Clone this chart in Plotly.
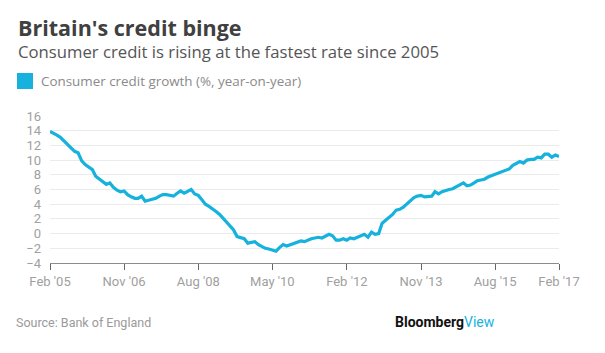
import plotly.graph_objects as go
import pandas as pd

# ---- Data (monthly, Feb 2005 .. Feb 2017) ----
start_month = "2005-02-01"
growth = [
    13.9, 13.7, 13.4, 13.1, 12.6, 12.1, 11.6, 11.2, 11.0, 9.9,
    9.4, 9.0, 8.7, 7.8, 7.4, 7.0, 6.7, 6.9, 6.3, 5.9,
    5.7, 5.8, 5.3, 5.0, 4.8, 4.8, 5.1, 4.4, 4.5, 4.6,
    4.8, 5.1, 5.3, 5.3, 5.2, 5.1, 5.5, 5.8, 5.5, 5.7,
    6.0, 5.4, 5.2, 4.6, 4.0, 3.7, 3.4, 3.0, 2.6, 2.1,
    1.6, 1.1, 0.5, -0.4, -0.5, -0.7, -1.3, -1.2, -1.1, -1.5,
    -1.8, -2.0, -2.1, -2.2, -2.4, -1.9, -1.5, -1.7, -1.5, -1.3,
    -1.1, -1.0, -1.1, -0.9, -0.7, -0.6, -0.5, -0.6, -0.3, -0.1,
    -0.3, -0.9, -0.9, -0.7, -0.9, -0.6, -0.7, -0.5, -0.3, -0.1,
    -0.5, 0.2, -0.1, 0.0, 1.4, 1.8, 2.2, 2.6, 3.2, 3.3,
    3.6, 4.0, 4.5, 4.9, 5.1, 5.2, 5.0, 5.0, 5.1, 5.7,
    5.4, 5.7, 5.9, 6.0, 6.1, 6.4, 6.7, 6.9, 6.5, 6.6,
    6.9, 7.2, 7.3, 7.4, 7.7, 7.9, 8.0, 8.2, 8.4, 8.6,
    8.8, 9.3, 9.6, 9.8, 9.6, 10.0, 10.1, 10.1, 10.4, 10.3,
    10.8, 10.8, 10.4, 10.7, 10.5,
]
dates = pd.date_range(start_month, periods=len(growth), freq="MS")

tick_dates = ["2005-02-01", "2006-11-01", "2008-08-01", "2010-05-01",
              "2012-02-01", "2013-11-01", "2015-08-01", "2017-02-01"]
tick_labels = ["Feb '05", "Nov '06", "Aug '08", "May '10",
               "Feb '12", "Nov '13", "Aug '15", "Feb '17"]
y_ticks = [-4, -2, 0, 2, 4, 6, 8, 10, 12, 14, 16]

title = "Britain's credit binge"
subtitle = "Consumer credit is rising at the fastest rate since 2005"
legend_label = "Consumer credit growth (%, year-on-year)"
source = "Source: Bank of England"

# ---- Layout geometry ----
WIDTH, HEIGHT = 605, 353
L, R, T, B = 50, 46, 116, 90
PW = WIDTH - L - R
PH = HEIGHT - T - B

def px(x):
    return (x - L) / PW

def py(y):
    return (HEIGHT - B - y) / PH

CYAN = "#16b2dd"
FONT = "Roboto"
HEAD = "Open Sans"

fig = go.Figure()
fig.add_trace(go.Scatter(
    x=dates, y=growth, mode="lines",
    line=dict(color=CYAN, width=3.2),
    hoverinfo="skip", showlegend=False,
))

fig.update_layout(
    width=WIDTH, height=HEIGHT,
    margin=dict(l=L, r=R, t=T, b=B, pad=0),
    paper_bgcolor="white", plot_bgcolor="white",
    font=dict(family=FONT, color="#999999", size=13),
    showlegend=False,
    xaxis=dict(
        range=[dates[0], dates[-1]],
        tickmode="array", tickvals=tick_dates, ticktext=tick_labels,
        showgrid=False, zeroline=False,
        showline=True, linecolor="#8c8c8c", linewidth=1,
        ticks="outside", ticklen=6, tickcolor="#666666", tickwidth=1,
        tickfont=dict(size=13, color="#a0a0a0"),
        fixedrange=True,
    ),
    yaxis=dict(
        range=[-4, 16],
        tickmode="array", tickvals=y_ticks,
        showgrid=True, gridcolor="#ebebeb", gridwidth=1,
        zeroline=False, showline=False, ticks="",
        ticklabelstandoff=8,
        tickfont=dict(size=13, color="#a0a0a0"),
        fixedrange=True,
    ),
)

fig.add_shape(type="rect", xref="paper", yref="paper",
              x0=px(17), x1=px(33), y0=py(89), y1=py(73),
              fillcolor=CYAN, line=dict(width=0))

annos = [
    dict(text=f"<b>{title}</b>", x=px(16), y=py(27), size=21.5, color="#404040", fam=HEAD),
    dict(text=subtitle, x=px(16), y=py(51), size=16.7, color="#555555", fam=HEAD),
    dict(text=legend_label, x=px(39), y=py(81), size=13.4, color="#8a8a8a", fam=HEAD),
    dict(text=source, x=px(14), y=py(322), size=12.5, color="#9a9a9a", fam=FONT),
]
for a in annos:
    fig.add_annotation(text=a["text"], x=a["x"], y=a["y"], xref="paper", yref="paper",
                       xanchor="left", yanchor="middle", showarrow=False,
                       font=dict(size=a["size"], color=a["color"], family=a["fam"]))

fig.add_annotation(
    text=f"<b>Bloomberg</b><span style='color:{CYAN}'>View</span>",
    x=px(497), y=py(322), xref="paper", yref="paper",
    xanchor="right", yanchor="middle", showarrow=False,
    font=dict(size=14, color="#111111", family=FONT),
)

fig.write_html("out.html", include_plotlyjs=True, config={"displayModeBar": False})
